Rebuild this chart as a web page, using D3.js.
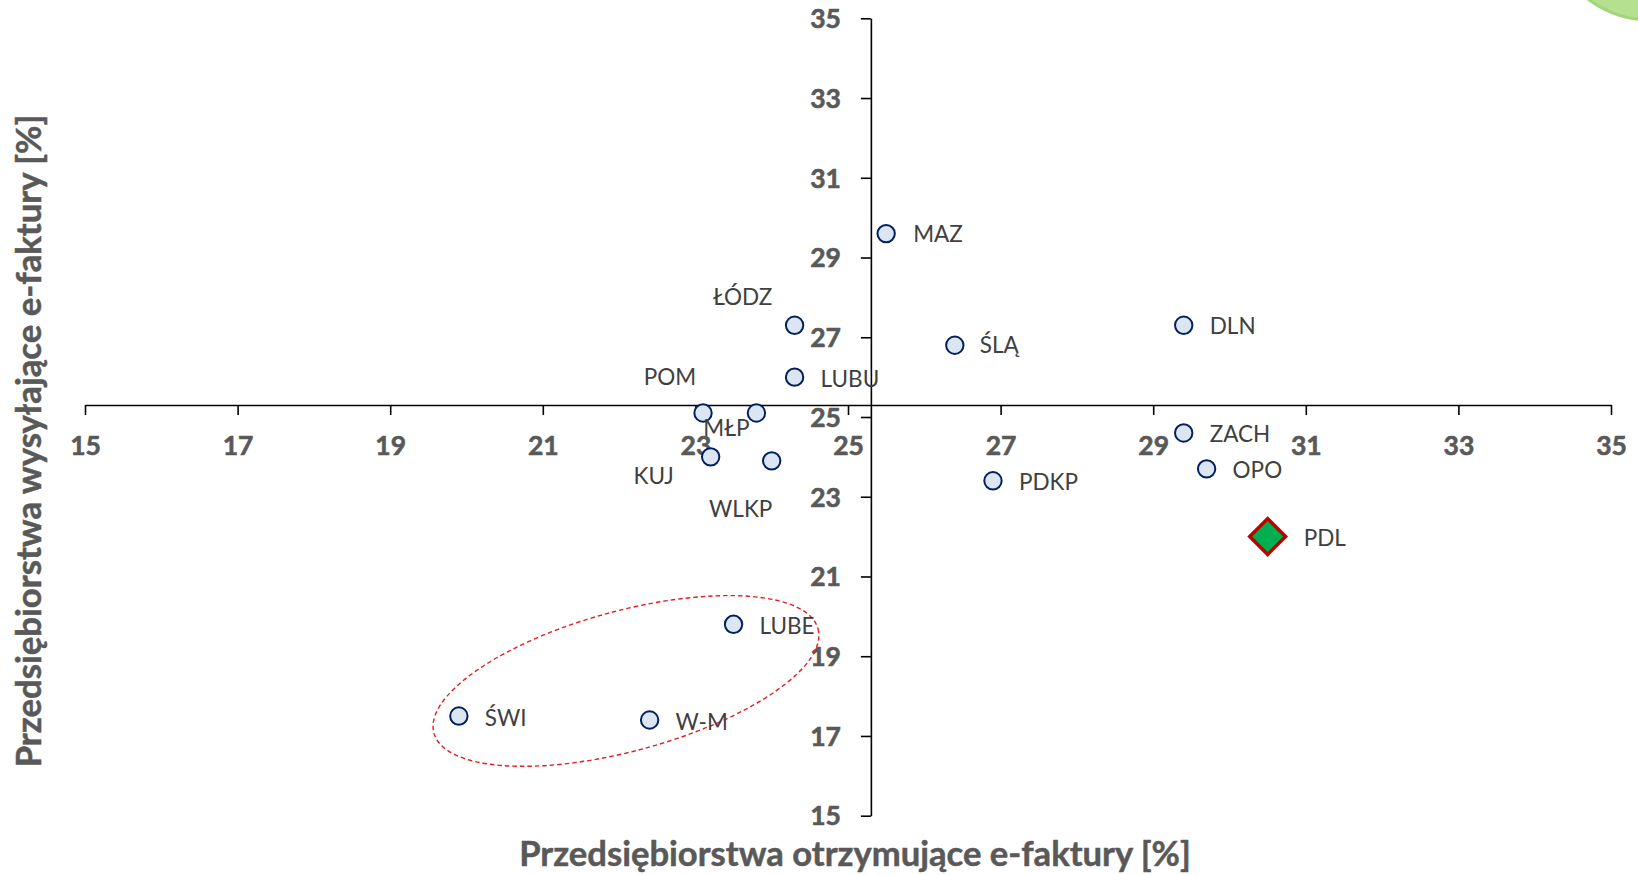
<!DOCTYPE html>
<html>
<head>
<meta charset="utf-8">
<script src="https://cdn.jsdelivr.net/npm/d3@7"></script>
<style>
  html, body { margin: 0; padding: 0; background: #ffffff; }
  svg { display: block; }
</style>
</head>
<body>
<svg id="chart" width="1638" height="875"></svg>
<script>
// ---------- DATA ----------
const regions   = ["MAZ","ŁÓDZ","LUBU","ŚLĄ","DLN","POM","MŁP","KUJ","WLKP","ZACH","OPO","PDKP","PDL","LUBE","ŚWI","W-M"];
const receiving = [25.5, 24.3, 24.3, 26.4, 29.4, 23.1, 23.8, 23.2, 24.0, 29.4, 29.7, 26.9, 30.5, 23.5, 19.9, 22.4];
const sending   = [29.6, 27.3, 26.0, 26.8, 27.3, 25.1, 25.1, 24.0, 23.9, 24.6, 23.7, 23.4, 22.0, 19.8, 17.5, 17.4];
const highlighted = ["PDL"];
const xTicks = [15, 17, 19, 21, 23, 25, 27, 29, 31, 33, 35];
const yTicks = [15, 17, 19, 21, 23, 25, 27, 29, 31, 33, 35];
const axisCross = [25.3, 25.3];   // x / y value where the axes cross
const xTitle = "Przedsiębiorstwa otrzymujące e-faktury [%]";
const yTitle = "Przedsiębiorstwa wysyłające e-faktury [%]";
// highlighted group (ellipse) in data units: centre x, centre y
const groupCenter = [22.09, 18.38];

// ---------- LAYOUT (presentation only) ----------
const labelLayout = {
  "MAZ":  {dx: 27, dy: 8.5, a: "start"},
  "ŁÓDZ": {dx: -52, dy: -20, a: "middle"},
  "LUBU": {dx: 26, dy: 10, a: "start"},
  "ŚLĄ":  {dx: 25, dy: 8, a: "start"},
  "DLN":  {dx: 26, dy: 8.5, a: "start"},
  "POM":  {dx: -33, dy: -28, a: "middle"},
  "MŁP":  {dx: -30, dy: 22.5, a: "middle"},
  "KUJ":  {dx: -57, dy: 27, a: "middle"},
  "WLKP": {dx: -31, dy: 56, a: "middle"},
  "ZACH": {dx: 26, dy: 9, a: "start"},
  "OPO":  {dx: 26, dy: 9, a: "start"},
  "PDKP": {dx: 26, dy: 9, a: "start"},
  "PDL":  {dx: 36, dy: 9, a: "start"},
  "LUBE": {dx: 26, dy: 10, a: "start"},
  "ŚWI":  {dx: 26, dy: 10, a: "start"},
  "W-M":  {dx: 26, dy: 10, a: "start"}
};

const data = regions.map((r, i) => ({name: r, x: receiving[i], y: sending[i]}));

const svg = d3.select("#chart");
const FONT = "Lato, 'Open Sans', 'Liberation Sans', sans-serif";

const x = d3.scaleLinear().domain([15, 35]).range([85, 1611]);
const y = d3.scaleLinear().domain([15, 35]).range([815.7, 18.3]);

// decorative green circle corner (top right)
svg.append("circle")
  .attr("cx", 1650).attr("cy", -82).attr("r", 102)
  .attr("fill", "#b5e08f").attr("stroke", "#a3d57a").attr("stroke-width", 3);

// ---------- AXES ----------
const xAxisG = svg.append("g")
  .attr("transform", `translate(0,${y(axisCross[1])})`)
  .call(d3.axisBottom(x).tickValues(xTicks).tickSize(10).tickPadding(20).tickSizeOuter(0));
const yAxisG = svg.append("g")
  .attr("transform", `translate(${x(axisCross[0])},0)`)
  .call(d3.axisLeft(y).tickValues(yTicks).tickSize(10).tickPadding(20).tickSizeOuter(0));

[xAxisG, yAxisG].forEach(g => {
  g.select(".domain").attr("stroke", "#000").attr("stroke-width", 1.6);
  g.selectAll(".tick line").attr("stroke", "#000").attr("stroke-width", 1.6);
  g.selectAll(".tick text")
    .attr("fill", "#595959")
    .attr("stroke", "#595959")
    .attr("stroke-width", 0.6)
    .style("font-family", FONT)
    .style("font-weight", "700")
    .style("font-size", "26.5px");
});
xAxisG.selectAll(".tick text").attr("dy", "0").attr("y", 50);
yAxisG.selectAll(".tick text").attr("dy", "0.35em").attr("x", -30);

// ---------- ELLIPSE ANNOTATION ----------
svg.append("ellipse")
  .attr("cx", 0).attr("cy", 0)
  .attr("rx", 199).attr("ry", 70)
  .attr("transform", `translate(${x(groupCenter[0])},${y(groupCenter[1])}) rotate(-15.2)`)
  .attr("fill", "none")
  .attr("stroke", "#e02020")
  .attr("stroke-width", 1.4)
  .attr("stroke-dasharray", "4.5,3");

// ---------- POINTS ----------
const pts = svg.append("g");
pts.selectAll("circle")
  .data(data.filter(d => !highlighted.includes(d.name)))
  .join("circle")
  .attr("cx", d => x(d.x)).attr("cy", d => y(d.y))
  .attr("r", 8.7)
  .attr("fill", "#dce6f2")
  .attr("stroke", "#002060")
  .attr("stroke-width", 2);

const diamond = d3.symbol().type(d3.symbolSquare).size(640);
pts.selectAll("path.hl")
  .data(data.filter(d => highlighted.includes(d.name)))
  .join("path")
  .attr("class", "hl")
  .attr("d", diamond)
  .attr("transform", d => `translate(${x(d.x)},${y(d.y)}) rotate(45)`)
  .attr("fill", "#00b050")
  .attr("stroke", "#c00000")
  .attr("stroke-width", 3.5);

// ---------- LABELS ----------
svg.append("g").selectAll("text")
  .data(data)
  .join("text")
  .attr("x", d => x(d.x) + labelLayout[d.name].dx)
  .attr("y", d => y(d.y) + labelLayout[d.name].dy)
  .attr("text-anchor", d => labelLayout[d.name].a)
  .attr("fill", "#404040")
  .style("font-family", FONT)
  .style("font-size", "22.5px")
  .text(d => d.name);

// ---------- AXIS TITLES ----------
function fitText(sel, target) {
  const len = sel.node().getComputedTextLength();
  const fs = parseFloat(sel.style("font-size"));
  if (len > 0) sel.style("font-size", (fs * target / len) + "px");
}
const xt = svg.append("text")
  .attr("x", 855).attr("y", 866)
  .attr("text-anchor", "middle")
  .attr("fill", "#595959")
  .attr("stroke", "#595959").attr("stroke-width", 0.5)
  .style("font-family", FONT).style("font-weight", "700").style("font-size", "30px")
  .text(xTitle);
fitText(xt, 672);

const yt = svg.append("text")
  .attr("transform", "translate(41,441) rotate(-90)")
  .attr("text-anchor", "middle")
  .attr("fill", "#595959")
  .attr("stroke", "#595959").attr("stroke-width", 0.5)
  .style("font-family", FONT).style("font-weight", "700").style("font-size", "30px")
  .text(yTitle);
fitText(yt, 653);
</script>
</body>
</html>
